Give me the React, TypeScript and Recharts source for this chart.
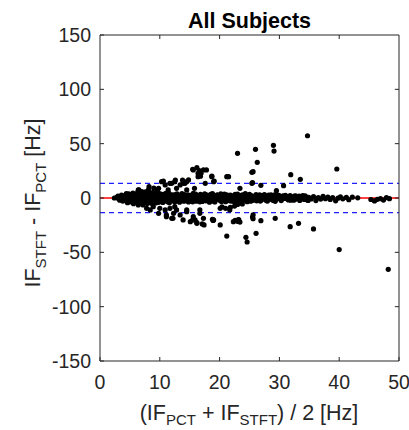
import React from 'react';
import { ScatterChart, Scatter, XAxis, YAxis, ReferenceLine } from 'recharts';

// Bland-Altman: mean of the two IF estimates vs their difference
const xTicks = [0, 10, 20, 30, 40, 50];
const yTicks = [-150, -100, -50, 0, 50, 100, 150];
const meanDiff = 0;
const upperLimit = 13.5;
const lowerLimit = -13.5;

// dense band of differences close to zero
const bandPoints: [number, number][] = [
  [2.4, 0], [2.8, 0.5], [3.1, -0.6], [3.4, 1.2], [3.7, -1.3], [3.9, 0.2],
  [4.2, 2.4], [4.3, -2.6], [4.5, 0.3], [4.8, 3.8], [4.9, -3.5], [5.1, 1.5], [5.3, -1.8],
  [5.5, 4.6], [5.6, -5.2], [5.8, 0.6], [6.0, 2.9], [6.1, -3.1], [6.3, 5.5], [6.4, -6.4],
  [6.6, 1.1], [6.8, -1.4], [6.9, 3.6], [7.0, -4.4],
  [7.2, 0.8], [7.4, 4.5], [7.5, -2.7], [7.7, 2.0], [7.9, -5.0], [8.1, -0.9], [8.3, 3.2],
  [8.5, -3.6], [8.7, 1.4], [8.9, 5.2], [9.1, -1.8], [9.3, -4.6], [9.5, 2.6], [9.7, 0.2],
  [9.9, 4.0], [10.1, -2.9], [10.3, 1.7], [10.5, -4.1], [10.7, 3.3], [10.9, -0.6], [11.1, 2.2],
  [11.3, -3.4], [11.5, 4.6], [11.7, 0.9], [11.9, -1.9],
  [12.2, 2.9], [12.4, -2.8], [12.6, 0.5], [12.9, 3.8], [13.1, -1.4], [13.3, -3.9], [13.6, 1.8],
  [13.8, -0.4], [14.1, 3.1], [14.3, -2.5], [14.6, 0.9], [14.8, -3.6], [15.1, 2.4], [15.3, -1.1],
  [15.6, 4.2], [15.8, 0.2], [16.1, -2.9], [16.3, 1.6], [16.6, -0.8], [16.8, 3.4], [17.1, -3.2],
  [17.3, 1.0], [17.6, -1.7], [17.8, 2.8], [18.1, -0.3], [18.3, -3.8], [18.6, 2.0], [18.8, 4.1],
  [19.1, -2.2], [19.3, 0.7], [19.6, 3.0], [19.8, -1.2], [20.1, 1.9], [20.3, -3.3], [20.6, 0.3],
  [20.8, 3.6], [21.1, -2.0], [21.3, 1.2], [21.6, -0.7], [21.8, 2.7], [22.1, -3.0], [22.3, 0.8],
  [22.6, 3.3], [22.8, -1.5], [23.1, 1.8], [23.3, -2.6], [23.6, 0.1], [23.8, 2.9], [24.1, -1.0],
  [24.3, 4.0], [24.6, -3.4], [24.8, 1.4], [25.1, -0.5], [25.3, 2.3], [25.6, -2.1], [25.8, 0.6],
  [26.1, 3.1], [26.3, -1.3], [26.6, 1.7], [26.8, -2.8], [27.1, 0.4], [27.3, 2.5], [27.6, -0.9],
  [27.8, -2.4], [28.1, 1.9], [28.3, 0.2], [28.6, 3.0], [28.8, -1.6], [29.1, 1.1], [29.3, -3.1],
  [29.6, 2.2], [29.8, -0.2],
  [30.1, 1.6], [30.4, -1.2], [30.7, 0.5], [31.0, 2.4], [31.3, -0.8], [31.6, 1.0], [31.9, -2.0],
  [32.2, 0.3], [32.5, 1.8], [32.8, -1.0], [33.1, 0.7], [33.4, -2.2], [33.7, 1.4], [34.0, -0.4],
  [34.3, 2.0], [34.6, -1.5], [34.9, 0.6],
  [35.3, -0.9], [35.7, 1.2], [36.1, -2.4], [36.5, 0.3], [36.9, -1.0], [37.3, 1.5], [37.7, -0.6],
  [38.1, 0.9], [38.5, -1.3], [38.9, 0.4], [39.4, -2.6], [39.8, -0.2], [40.2, 1.0], [40.6, -0.8],
  [41.2, 0.5], [41.6, -1.6], [42.2, 0.8], [43.1, 0.2],
  [45.3, -1.4], [45.9, -2.7], [46.4, -1.2], [46.9, -0.5], [47.4, -1.9], [47.9, 0.4], [48.4, -0.6],
];

// more of the same band, filling between the first set
const bandFill: [number, number][] = [
  [3.0, 1.8], [3.3, -2.0], [3.6, 2.6], [3.8, -2.8], [4.0, 0.9], [4.1, -1.1], [4.4, 4.0],
  [4.6, -4.3], [4.7, 1.9], [5.0, -0.6], [5.2, 3.0], [5.4, -3.9], [5.7, 2.2], [5.9, -2.4],
  [6.2, -0.2], [6.5, 4.0], [6.7, -4.8], [6.9, 0.1],
  [7.1, 2.8], [7.3, -1.2], [7.6, 5.6], [7.8, -3.8], [8.0, 1.2], [8.2, -2.2], [8.4, 4.4],
  [8.6, -4.8], [8.8, -0.2], [9.0, 2.9], [9.2, -3.1], [9.4, 4.6], [9.6, -0.9], [9.8, -4.0],
  [10.0, 1.0], [10.2, 3.6], [10.4, -1.5], [10.6, -3.3], [10.8, 1.8], [11.0, 4.3], [11.2, -2.4],
  [11.4, 0.4], [11.6, -4.4], [11.8, 3.0],
  [12.1, -1.0], [12.3, 1.5], [12.5, -3.6], [12.7, 3.4], [13.0, -0.6], [13.2, 2.2], [13.5, -2.2],
  [13.7, 4.1], [14.0, -3.0], [14.2, 1.2], [14.5, -1.6], [14.7, 2.9], [15.0, -2.6], [15.2, 0.6],
  [15.5, -3.5], [15.7, 2.0], [16.0, 3.7], [16.2, -1.4], [16.5, 0.9], [16.7, -3.5], [17.0, 2.3],
  [17.2, -0.3], [17.5, 3.8], [17.7, -2.6], [18.0, 1.4], [18.2, -1.7], [18.5, 3.4], [18.7, -2.8],
  [19.0, 1.0], [19.2, -3.6], [19.5, -0.4], [19.7, 2.4], [20.0, -2.0], [20.2, 3.9], [20.5, -1.2],
  [20.7, 1.4], [21.0, -3.4], [21.2, 3.0], [21.5, 0.5], [21.7, -2.6], [22.0, 2.0], [22.2, -1.0],
  [22.5, -3.4], [22.7, 1.4], [23.0, 3.6], [23.2, -0.6], [23.5, 2.2], [23.7, -3.2], [24.0, 1.0],
  [24.2, -2.0], [24.5, 2.6], [24.7, -0.8], [25.0, 3.4], [25.2, -3.0], [25.5, 1.0], [25.7, -1.4],
  [26.0, 2.2], [26.2, -2.6], [26.5, -0.2], [26.7, 2.8], [27.0, -1.8], [27.2, 1.3], [27.5, 3.2],
  [27.7, 0.5], [28.0, -2.8], [28.2, 2.6], [28.5, -0.8], [28.7, 1.4], [29.0, -2.2], [29.2, 2.8],
  [29.5, -1.2], [29.7, 0.6], [29.9, 2.4],
  [30.3, -2.4], [30.6, 2.0], [30.9, -0.4], [31.2, 1.5], [31.5, -1.8], [31.8, 2.2], [32.1, -0.6],
  [32.4, -2.0], [32.7, 2.0], [33.0, -0.2], [33.3, 1.7], [33.6, -1.2], [33.9, 2.3], [34.2, -1.4],
  [34.5, 0.8], [34.8, -2.2],
];

// scattered positive differences
const upperPoints: [number, number][] = [
  [34.7, 57.3], [23.0, 41.1], [26.0, 44.8], [29.0, 48.5], [29.1, 43.2], [26.3, 32.8],
  [25.4, 23.6], [25.6, 24.2], [21.2, 19.6], [31.9, 21.5], [33.5, 17.2], [39.6, 26.7],
  [15.5, 26.4], [16.2, 27.9], [16.6, 25.1], [16.9, 22.7], [17.8, 25.8], [18.7, 20.2],
  [19.1, 15.6], [16.8, 20.0], [15.8, 8.9], [17.6, 13.5], [25.5, 14.1], [26.9, 11.7],
  [23.4, 8.9], [29.5, 6.7], [30.7, 11.3], [10.6, 15.6], [12.0, 13.5], [12.6, 16.5],
  [13.8, 16.5], [14.5, 15.0], [8.2, 10.4], [9.0, 9.0], [9.6, 7.4], [6.5, 7.4],
  [6.4, 7.4], [7.0, 5.9], [8.1, 7.4], [8.6, 4.3], [10.3, 15.0], [10.9, 12.0], [11.7, 13.5],
  [12.5, 15.0], [13.4, 12.0], [14.2, 13.5], [14.8, 16.6], [15.6, 25.8], [16.4, 19.6],
  [17.3, 25.8], [9.8, 8.9], [11.4, 7.4], [12.8, 8.9], [14.5, 7.4], [21.5, 19.6],
  [25.4, 13.5], [13.9, 13.5], [19.0, 15.0], [18.7, 19.6], [16.4, 22.7],
];

// scattered negative differences
const lowerPoints: [number, number][] = [
  [7.2, -6.4], [8.4, -11.0], [8.9, -8.0], [9.8, -14.1], [10.9, -11.0], [11.1, -17.2],
  [12.0, -18.7], [12.3, -14.1], [12.8, -11.0], [13.4, -15.6], [13.9, -20.2], [14.5, -12.6],
  [15.1, -21.8], [15.9, -20.2], [16.2, -23.3], [16.7, -11.0], [17.3, -18.7], [12.5, -8.0],
  [11.7, -9.5], [10.0, -9.5], [7.8, -9.5], [11.1, -15.6], [12.2, -18.7], [15.5, -20.2],
  [14.5, -11.0], [15.6, -17.2], [16.7, -14.1], [19.0, -20.2], [20.1, -9.5], [21.7, -11.0],
  [22.3, -21.8], [23.1, -20.2], [20.4, -8.2], [21.0, -9.5], [21.8, -8.5], [22.5, -7.4],
  [23.0, -6.0], [23.8, -5.5],
  [21.2, -35.0], [24.4, -36.2], [24.6, -40.5], [26.1, -32.5], [22.6, -20.5], [23.0, -21.5],
  [23.4, -22.2], [23.2, -19.8], [25.5, -17.5], [25.6, -19.0], [26.9, -20.9], [29.3, -18.7],
  [31.8, -26.4], [33.2, -23.3], [35.7, -28.5], [20.1, -24.8], [18.8, -19.6], [17.1, -23.9],
  [17.4, -24.8], [16.2, -22.7], [40.0, -47.5], [48.2, -65.6], [18.9, -20.7], [25.6, -15.6],
];

const FONT = '"Liberation Sans", Arial, Helvetica, sans-serif';
const INK = '#262626';
const X_MAX = 50;
const Y_MAX = 150;
// inward tick length on the top/right edges, in data units (about 4 px)
const TICK_X = 0.7;
const TICK_Y = 3.7;

const toData = (pts: [number, number][]) => pts.map(([x, y]) => ({ x, y }));
const data = [
  ...toData(bandPoints),
  ...toData(bandFill),
  ...toData(upperPoints),
  ...toData(lowerPoints),
];

const Dot = (props: any) => <circle cx={props.cx} cy={props.cy} r={2.6} fill="#000" />;

const XLabel = () => (
  <text x={249} y={420} textAnchor="middle" fontFamily={FONT} fontSize={21.5} fill={INK} style={{ whiteSpace: 'pre' }}>
    <tspan>(IF</tspan>
    <tspan fontSize={15} dy={5}>PCT</tspan>
    <tspan dy={-5}>{' + IF'}</tspan>
    <tspan fontSize={15} dy={5}>STFT</tspan>
    <tspan dy={-5}>{') / 2 [Hz]'}</tspan>
  </text>
);

// y label plus the title
const LeftLabels = () => (
  <g>
    <text x={249.5} y={28} textAnchor="middle" fontFamily={FONT} fontSize={21.5} fontWeight="bold" fill="#000">
      All Subjects
    </text>
    <text
      transform="translate(40,203) rotate(-90)"
      textAnchor="middle"
      fontFamily={FONT}
      fontSize={21.5}
      fill={INK}
      style={{ whiteSpace: 'pre' }}
    >
      <tspan>IF</tspan>
      <tspan fontSize={15} dy={6}>STFT</tspan>
      <tspan dy={-6}>{' - IF'}</tspan>
      <tspan fontSize={15} dy={6}>PCT</tspan>
      <tspan dy={-6}>{' [Hz]'}</tspan>
    </text>
  </g>
);

const tickStyle = { fill: INK, fontSize: 19.5, fontFamily: FONT };

export default function App() {
  return (
    <div style={{ position: 'absolute', left: 0, top: 0, width: 409, height: 430, background: '#fff' }}>
      <ScatterChart width={409} height={430} margin={{ top: 35, right: 10, bottom: 39, left: 40 }}>
        <XAxis
          dataKey="x"
          type="number"
          domain={[0, X_MAX]}
          ticks={xTicks}
          height={30}
          stroke={INK}
          tickSize={-4}
          tickMargin={18}
          tick={tickStyle}
          label={<XLabel />}
        />
        <YAxis
          dataKey="y"
          type="number"
          domain={[-Y_MAX, Y_MAX]}
          ticks={yTicks}
          width={60}
          stroke={INK}
          tickSize={-4}
          tickMargin={13}
          tick={tickStyle}
          label={<LeftLabels />}
        />
        <ReferenceLine y={upperLimit} stroke="#1f1fff" strokeWidth={1.2} strokeDasharray="5 4" />
        <ReferenceLine y={lowerLimit} stroke="#1f1fff" strokeWidth={1.2} strokeDasharray="5 4" />
        <Scatter data={data} shape={Dot} isAnimationActive={false} />
        <ReferenceLine y={meanDiff} stroke="#ff0000" strokeWidth={1.5} />
        {/* top and right edges of the box, with inward ticks */}
        <ReferenceLine y={Y_MAX} stroke={INK} strokeWidth={1} ifOverflow="visible" />
        <ReferenceLine x={X_MAX} stroke={INK} strokeWidth={1} ifOverflow="visible" />
        {xTicks.slice(1, -1).map((t) => (
          <ReferenceLine
            key={`tx${t}`}
            segment={[{ x: t, y: Y_MAX }, { x: t, y: Y_MAX - TICK_Y }]}
            stroke={INK}
            ifOverflow="visible"
          />
        ))}
        {yTicks.slice(1, -1).map((t) => (
          <ReferenceLine
            key={`ty${t}`}
            segment={[{ x: X_MAX, y: t }, { x: X_MAX - TICK_X, y: t }]}
            stroke={INK}
            ifOverflow="visible"
          />
        ))}
      </ScatterChart>
    </div>
  );
}
